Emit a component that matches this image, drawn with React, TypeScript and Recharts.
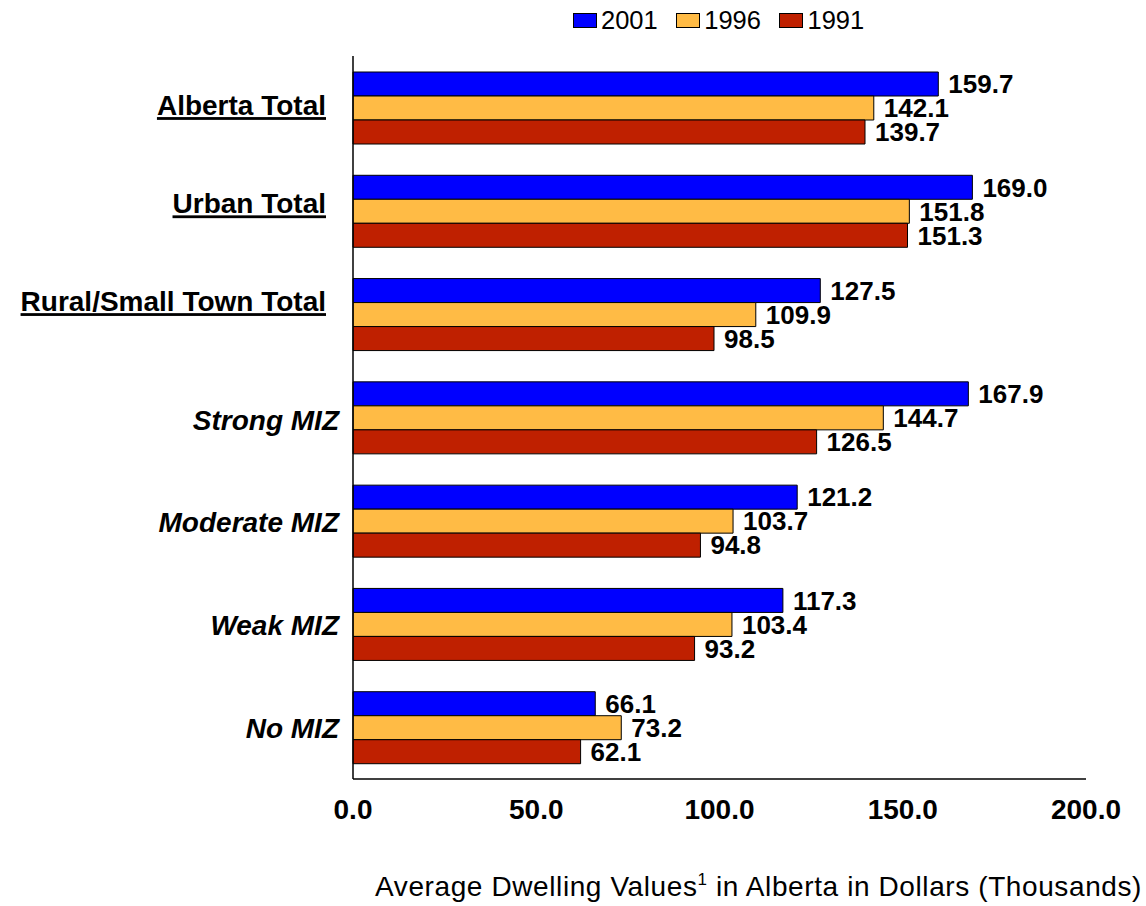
import React from 'react';
import { BarChart, Bar, XAxis, YAxis, Legend, LabelList, Label } from 'recharts';

// values (thousands of dollars)
const categories = [
  'Alberta Total',
  'Urban Total',
  'Rural/Small Town Total',
  'Strong MIZ',
  'Moderate MIZ',
  'Weak MIZ',
  'No MIZ',
];
const totalCategories = ['Alberta Total', 'Urban Total', 'Rural/Small Town Total'];
const values2001 = [159.7, 169.0, 127.5, 167.9, 121.2, 117.3, 66.1];
const values1996 = [142.1, 151.8, 109.9, 144.7, 103.7, 103.4, 73.2];
const values1991 = [139.7, 151.3, 98.5, 126.5, 94.8, 93.2, 62.1];
const seriesKeys = ['y2001', 'y1996', 'y1991'];
const seriesNames = ['2001', '1996', '1991'];
const seriesColors = ['#0000FF', '#FFBB45', '#BF2000'];
const xTicks = [0, 50, 100, 150, 200];

const data = categories.map((name, i) => ({
  name,
  y2001: values2001[i],
  y1996: values1996[i],
  y1991: values1991[i],
}));

const FONT = '"Liberation Sans", Arial, Helvetica, sans-serif';

// small vertical nudges for the category labels, as they sit in the original
const tickNudge: Record<string, number> = {
  'Alberta Total': -2.5,
  'Urban Total': -7.5,
  'Rural/Small Town Total': -13,
  'Strong MIZ': 3,
};

const CategoryTick = (props: any) => {
  const { x, y, payload } = props;
  const isTotal = totalCategories.includes(payload.value);
  const nudge = tickNudge[payload.value] ?? 0.8;
  return (
    <text
      x={isTotal ? x - 13 : x}
      y={y + nudge}
      dy="0.355em"
      textAnchor="end"
      fontFamily={FONT}
      fontSize={28}
      fontWeight="bold"
      fontStyle={isTotal ? 'normal' : 'italic'}
      style={{ textDecoration: isTotal ? 'underline' : 'none' }}
      fill="#000"
    >
      {payload.value}
    </text>
  );
};

const LegendContent = () => (
  <div style={{ display: 'flex', alignItems: 'center', height: 30, fontFamily: FONT, fontSize: 25.5 }}>
    {seriesNames.map((n, i) => (
      <div key={n} style={{ display: 'flex', alignItems: 'center', marginRight: 18.5 }}>
        <span
          style={{
            display: 'inline-block',
            width: 22,
            height: 13,
            background: seriesColors[i],
            border: '1px solid #000',
            marginRight: 4,
          }}
        />
        <span>{n}</span>
      </div>
    ))}
  </div>
);

const TitleLabel = () => (
  <text
    x={1142}
    y={896}
    textAnchor="end"
    fontFamily={FONT}
    fontSize={28}
    letterSpacing={0.6}
    fill="#000"
    xmlSpace="preserve"
  >
    Average Dwelling Values
    <tspan dy={-11} fontSize={17}>1</tspan>
    <tspan dy={11}> in Alberta in Dollars (Thousands)</tspan>
  </text>
);

export default function App() {
  return (
    <div style={{ position: 'absolute', left: 0, top: 0, background: '#fff' }}>
      <BarChart
        width={1146}
        height={906}
        data={data}
        layout="vertical"
        margin={{ top: 26, right: 60, bottom: 0, left: 0 }}
        barGap={0}
        barSize={24}
      >
        <Legend
          verticalAlign="top"
          align="left"
          content={<LegendContent />}
          wrapperStyle={{ top: 5, left: 573, width: 340, height: 30 }}
        />
        <XAxis
          type="number"
          domain={[0, 200]}
          ticks={xTicks}
          tickFormatter={(v: number) => v.toFixed(1)}
          axisLine={{ stroke: '#000', strokeWidth: 1.5 }}
          tickLine={false}
          tickSize={0}
          tickMargin={20}
          height={127}
          tick={{ fontFamily: FONT, fontSize: 28, fontWeight: 'bold', fill: '#000' }}
        >
          <Label content={<TitleLabel />} />
        </XAxis>
        <YAxis
          type="category"
          dataKey="name"
          width={353}
          axisLine={{ stroke: '#000', strokeWidth: 1.5 }}
          tickLine={false}
          tickSize={0}
          tickMargin={14}
          tick={<CategoryTick />}
          interval={0}
        />
        {seriesKeys.map((k, i) => (
          <Bar
            key={k}
            dataKey={k}
            name={seriesNames[i]}
            fill={seriesColors[i]}
            stroke="#000"
            strokeWidth={1}
            isAnimationActive={false}
          >
            <LabelList
              dataKey={k}
              position="right"
              offset={10}
              formatter={(v: any) => Number(v).toFixed(1)}
              style={{ fontFamily: FONT, fontSize: 26, fontWeight: 'bold', fill: '#000' }}
            />
          </Bar>
        ))}
      </BarChart>
    </div>
  );
}
